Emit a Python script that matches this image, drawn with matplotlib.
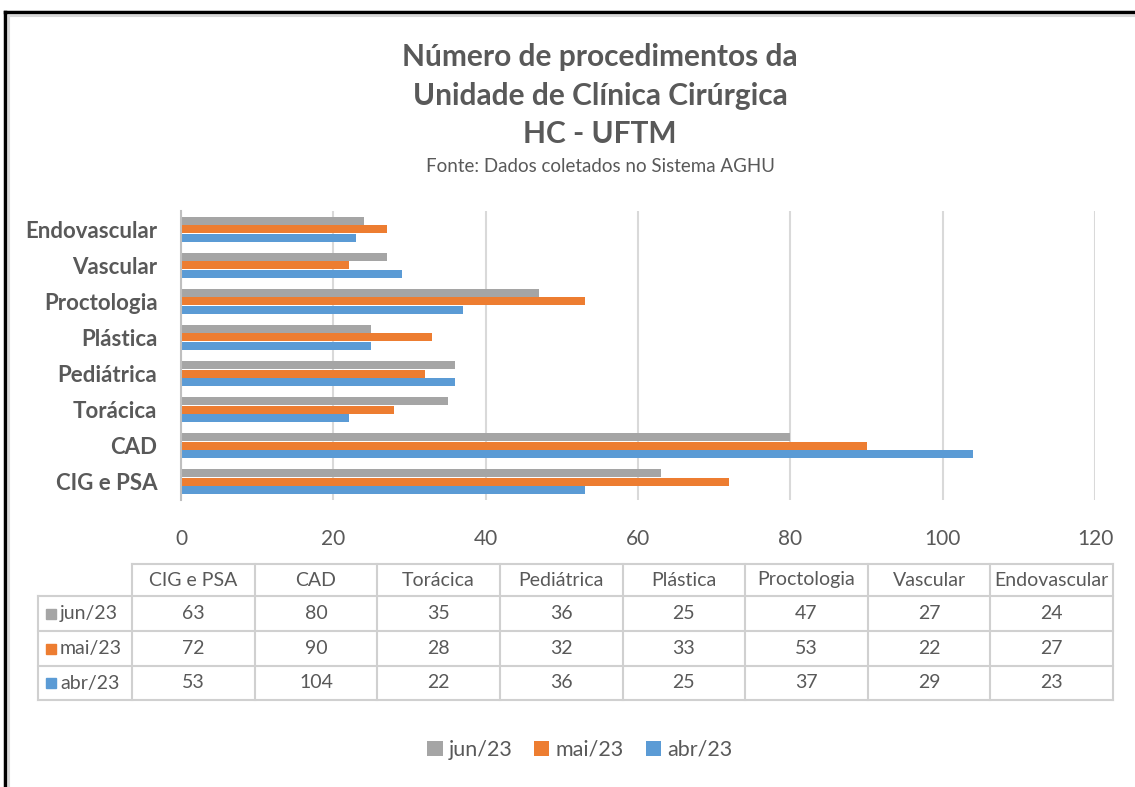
import numpy as np
import matplotlib.pyplot as plt
from matplotlib.patches import Rectangle
from matplotlib.lines import Line2D

plt.rcParams['font.family'] = ['Lato', 'DejaVu Sans']

categories = ['CIG e PSA', 'CAD', 'Torácica', 'Pediátrica', 'Plástica',
              'Proctologia', 'Vascular', 'Endovascular']
series_names = ['jun/23', 'mai/23', 'abr/23']
jun = [63, 80, 35, 36, 25, 47, 27, 24]
mai = [72, 90, 28, 32, 33, 53, 22, 27]
abr = [53, 104, 22, 36, 25, 37, 29, 23]
colors = ['#A5A5A5', '#ED7D31', '#5B9BD5']
xticks = [0, 20, 40, 60, 80, 100, 120]

txt = '#595959'
grid_c = '#D9D9D9'
W, H = 1135, 787

fig = plt.figure(figsize=(11.35, 7.87), dpi=100)

def fx(px):
    return px / W

def fy(py):
    return 1 - py / H

# frame: black outer line, light inner line (right/bottom run off the image)
fig.lines.append(Line2D([fx(5), 1.01], [fy(12), fy(12)], transform=fig.transFigure,
                        color='black', lw=2.5))
fig.lines.append(Line2D([fx(5), fx(5)], [fy(12), -0.01], transform=fig.transFigure,
                        color='black', lw=2.5))
fig.lines.append(Line2D([fx(9), 1.01], [fy(15.5), fy(15.5)], transform=fig.transFigure,
                        color='#D9D9D9', lw=1.5))
fig.lines.append(Line2D([fx(9), fx(9)], [fy(15.5), -0.01], transform=fig.transFigure,
                        color='#D9D9D9', lw=1.5))

# titles
for line, yy in zip(['Número de procedimentos da', 'Unidade de Clínica Cirúrgica',
                     'HC - UFTM'], [57, 96, 134]):
    fig.text(fx(600), fy(yy), line, ha='center', va='center',
             fontsize=21.5, fontweight='bold', color=txt)
fig.text(fx(600), fy(167), 'Fonte: Dados coletados no Sistema AGHU', ha='center',
         va='center', fontsize=13.5, color=txt)

ax = fig.add_axes([fx(181), fy(500), fx(1095) - fx(181), fy(211) - fy(500)])
y = np.arange(len(categories))
bh = 0.22
off = 0.235
b_jun = ax.barh(y + off, jun, height=bh, color=colors[0], zorder=3)
b_mai = ax.barh(y, mai, height=bh, color=colors[1], zorder=3)
b_abr = ax.barh(y - off, abr, height=bh, color=colors[2], zorder=3)

ax.set_xlim(0, 120)
ax.set_ylim(-0.5, 7.5)
ax.set_xticks(xticks)
ax.set_yticks(y)
ax.set_yticklabels(categories, fontsize=16, fontweight='bold', color=txt)
ax.tick_params(axis='x', labelsize=15, labelcolor=txt, length=0, pad=21)
ax.tick_params(axis='y', length=0, pad=17)
ax.grid(axis='x', color=grid_c, lw=1.5, zorder=0)
for s in ['top', 'right', 'bottom']:
    ax.spines[s].set_visible(False)
ax.spines['left'].set_color('#BFBFBF')
ax.spines['left'].set_linewidth(1.5)
ax.spines['left'].set_zorder(4)

# data table under the chart
col_x = np.linspace(132, 1113, len(categories) + 1)
row_y = [564, 596, 631, 666, 700]
lc = '#D0D0D0'
tlw = 1.5

def hline(x0, x1, yy):
    fig.lines.append(Line2D([fx(x0), fx(x1)], [fy(yy), fy(yy)],
                            transform=fig.transFigure, color=lc, lw=tlw))

def vline(xx, y0, y1):
    fig.lines.append(Line2D([fx(xx), fx(xx)], [fy(y0), fy(y1)],
                            transform=fig.transFigure, color=lc, lw=tlw))

hline(132, 1113, row_y[0])
for yy in row_y[1:]:
    hline(38, 1113, yy)
for xx in col_x:
    vline(xx, row_y[0], row_y[-1])
vline(38, row_y[1], row_y[-1])

for j, c in enumerate(categories):
    cx = (col_x[j] + col_x[j + 1]) / 2
    fig.text(fx(cx), fy((row_y[0] + row_y[1]) / 2), c, ha='center', va='center',
             fontsize=14, color=txt)

table_rows = [jun, mai, abr]
for i, (name, vals) in enumerate(zip(series_names, table_rows)):
    cy = (row_y[i + 1] + row_y[i + 2]) / 2
    fig.patches.append(Rectangle((fx(46), fy(cy + 5)), fx(10), fy(0) - fy(10),
                                 transform=fig.transFigure, color=colors[i]))
    fig.text(fx(60), fy(cy), name, ha='left', va='center', fontsize=14, color=txt)
    for j, v in enumerate(vals):
        cx = (col_x[j] + col_x[j + 1]) / 2
        fig.text(fx(cx), fy(cy), str(v), ha='center', va='center',
                 fontsize=14, color=txt)

fig.legend([b_jun, b_mai, b_abr], series_names, loc='center',
           bbox_to_anchor=(fx(580), fy(750)), ncol=3, frameon=False,
           fontsize=15.5, labelcolor=txt, handlelength=0.7, handleheight=0.7,
           handletextpad=0.3, columnspacing=1.0)

fig.savefig('out.png', dpi=100)
